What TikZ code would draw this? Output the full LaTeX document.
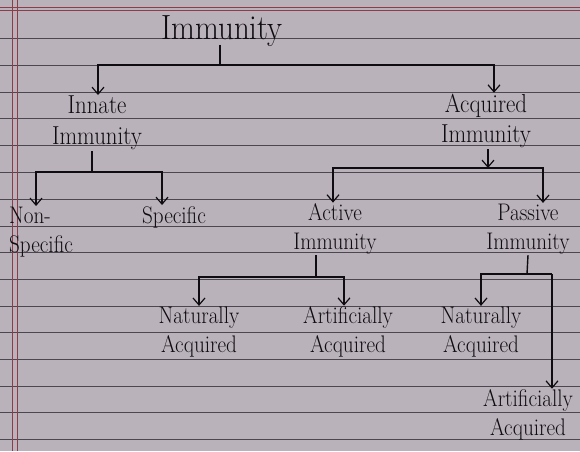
\documentclass[tikz,border=0pt]{standalone}
\usepackage{graphicx}
\usetikzlibrary{arrows.meta}
\definecolor{paper}{RGB}{186,178,186}
\definecolor{rule}{RGB}{75,70,80}
\definecolor{margin}{RGB}{140,60,75}
\definecolor{ink}{RGB}{14,12,16}
\newcommand\hw[1]{\scalebox{0.88}[1.0]{#1}}
\tikzset{
  x=1pt, y=-1pt,
  lbl/.style={text=ink, align=center, inner sep=1pt,
    font=\fontsize{24}{28.5}\selectfont},
  lblmid/.style={lbl, font=\fontsize{26}{30.5}\selectfont},
  edge/.style={draw=ink, line width=1.4pt},
  arr/.style={edge, -{Straight Barb[length=7pt,width=12pt,line width=1.2pt]}},
  ruling/.style={draw=rule, line width=0.8pt},
  marginline/.style={draw=margin, line width=0.8pt}
}
\begin{document}
\begin{tikzpicture}
\useasboundingbox (0,0) rectangle (580,451);
\fill[paper] (0,0) rectangle (580,451);
\foreach \yy in {38,65,92,118,145,172,199,226,252,279,306,332,359,386,412,439}
  \draw[ruling] (0,\yy) -- (580,\yy);
\draw[marginline] (0,7) -- (580,7);
\draw[marginline] (0,10) -- (580,10);
\draw[marginline] (12,0) -- (12,451);
\draw[marginline] (17,0) -- (17,451);

% nodes
\node[lbl, font=\fontsize{35}{40}\selectfont] (title) at (222,31) {\hw{Immunity}};
\node[lblmid] (innate) at (97,123) {\hw{Innate}\\\hw{Immunity}};
\node[lblmid] (acquired) at (486,121) {\hw{Acquired}\\\hw{Immunity}};
\node[lbl, align=left, anchor=west] (nonspec) at (8,232) {\hw{Non-}\\\hw{Specific}};
\node[lbl] (specific) at (174,217) {\hw{Specific}};
\node[lbl] (active) at (335,229) {\hw{Active}\\\hw{Immunity}};
\node[lbl] (passive) at (528,229) {\hw{Passive}\\\hw{Immunity}};
\node[lbl] (natacq1) at (199,332) {\hw{Naturally}\\\hw{Acquired}};
\node[lbl] (artacq1) at (348,332) {\hw{Artificially}\\\hw{Acquired}};
\node[lbl] (natacq2) at (481,332) {\hw{Naturally}\\\hw{Acquired}};
\node[lbl] (artacq2) at (528,415) {\hw{Artificially}\\\hw{Acquired}};

% junctions
\coordinate (b1) at (220,65);
\coordinate (b2) at (92,172);
\coordinate (b3) at (488,168);
\coordinate (b4) at (316,277);
\coordinate (b5) at (527,274);
\coordinate (b5r) at (552,274);

% connectors
\draw[edge] ([yshift=3pt]title.south -| b1) -- (b1);
\draw[arr] (b1) -| ([xshift=1pt]innate.north);
\draw[arr] (b1) -| ([xshift=8pt]acquired.north);

\draw[edge] (innate.south -| b2) -- (b2);
\draw[arr] (b2) -| ([xshift=-5pt]nonspec.north);
\draw[arr] (b2) -| ([xshift=-12pt]specific.north);

\draw[arr] ([xshift=2pt]acquired.south) -- (b3);
\draw[arr] (b3) -| ([xshift=-2pt]active.north);
\draw[arr] (b3) -| ([xshift=15pt]passive.north);

\draw[edge] (active.south -| b4) -- (b4);
\draw[arr] (b4) -| (natacq1.north);
\draw[arr] (b4) -| ([xshift=-4pt]artacq1.north);

\draw[edge] (passive.south) -- (b5);
\draw[arr] (b5) -| (natacq2.north);
\draw[edge] (b5) -- (b5r);
\draw[arr] (b5r) -- (b5r |- artacq2.north);
\end{tikzpicture}
\end{document}
